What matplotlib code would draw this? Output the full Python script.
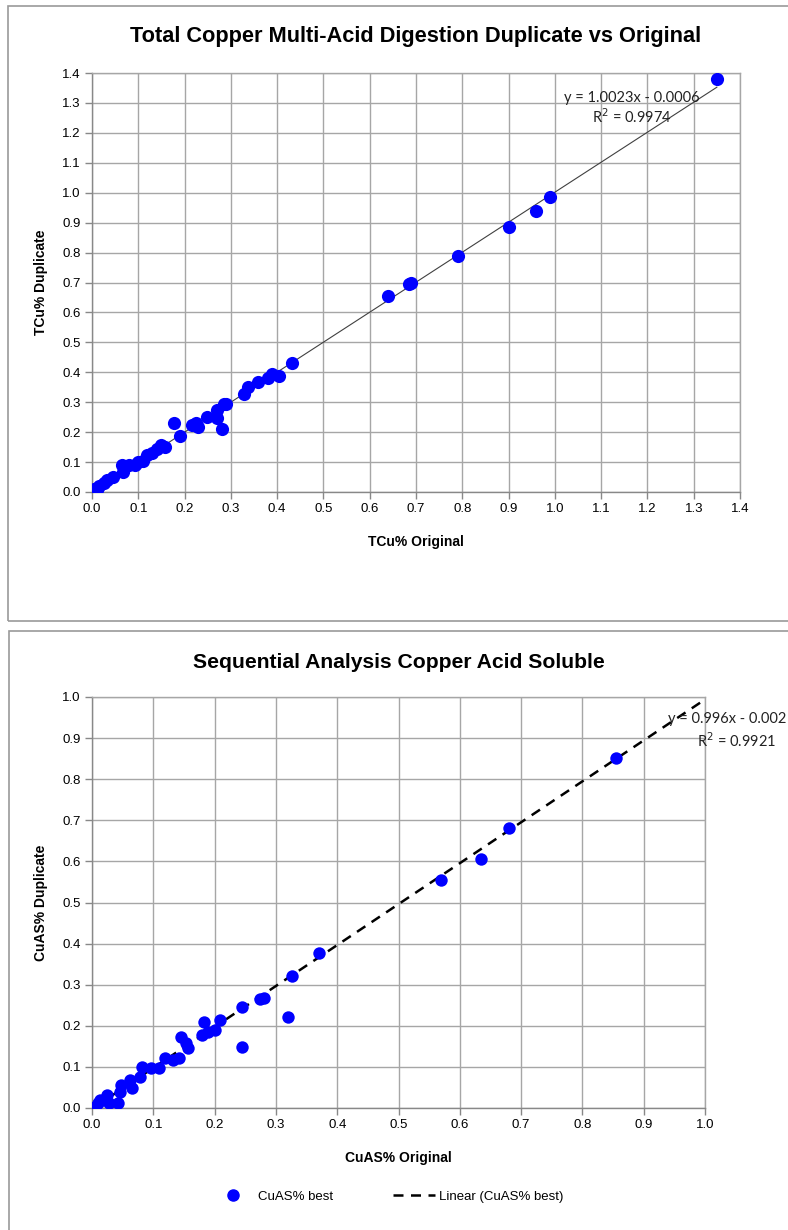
import numpy as np
import matplotlib
matplotlib.use("Agg")
import matplotlib.pyplot as plt
from matplotlib.patches import Rectangle
from matplotlib.lines import Line2D

# total copper: original vs duplicate assay (%)
tcu_orig = [1.35, 0.99, 0.96, 0.90, 0.79, 0.69, 0.685, 0.64, 0.433, 0.405, 0.388,
            0.381, 0.359, 0.338, 0.329, 0.29, 0.285, 0.28, 0.271, 0.271, 0.248,
            0.23, 0.225, 0.215, 0.19, 0.178, 0.158, 0.15, 0.14, 0.13, 0.118,
            0.11, 0.10, 0.093, 0.08, 0.064, 0.068, 0.045, 0.032, 0.025, 0.015,
            0.01, 0.005]
tcu_dup = [1.38, 0.985, 0.94, 0.885, 0.79, 0.70, 0.695, 0.655, 0.43, 0.388, 0.394,
           0.38, 0.368, 0.35, 0.326, 0.294, 0.295, 0.21, 0.246, 0.274, 0.252,
           0.218, 0.23, 0.224, 0.188, 0.23, 0.149, 0.157, 0.145, 0.13, 0.124,
           0.105, 0.10, 0.09, 0.09, 0.09, 0.068, 0.05, 0.04, 0.03, 0.02,
           0.007, 0.01]
tcu_slope, tcu_icept, tcu_r2 = 1.0023, -0.0006, 0.9974

# acid soluble copper: original vs duplicate assay (%)
cuas_orig = [0.855, 0.68, 0.635, 0.57, 0.37, 0.327, 0.319, 0.244, 0.244, 0.274,
             0.281, 0.209, 0.20, 0.182, 0.179, 0.19, 0.146, 0.154, 0.157, 0.142,
             0.132, 0.119, 0.11, 0.097, 0.081, 0.079, 0.062, 0.065, 0.048, 0.043,
             0.024, 0.027, 0.01, 0.005, 0.013, 0.046]
cuas_dup = [0.852, 0.682, 0.605, 0.555, 0.378, 0.322, 0.222, 0.245, 0.149, 0.264,
            0.267, 0.214, 0.19, 0.21, 0.178, 0.186, 0.172, 0.157, 0.145, 0.121,
            0.118, 0.121, 0.097, 0.097, 0.10, 0.076, 0.068, 0.048, 0.056, 0.011,
            0.032, 0.011, 0.011, 0.003, 0.02, 0.04]
cuas_slope, cuas_icept, cuas_r2 = 0.996, -0.002, 0.9921

title_font = ["Liberation Sans", "DejaVu Sans"]
body_font = ["Liberation Sans", "DejaVu Sans"]
eq_font = ["Lato", "DejaVu Sans"]
grid_col = "#a6a6a6"

fig = plt.figure(figsize=(7.88, 12.30), dpi=100)
W, H = 788, 1230

# chart area frames
fig.patches.append(Rectangle((8 / W, 1 - 621 / H), 800 / W, 615 / H,
                             transform=fig.transFigure, fill=False,
                             edgecolor="#9a9a9a", linewidth=1.2))
fig.patches.append(Rectangle((9 / W, -0.02), 800 / W, (1230 - 631) / H + 0.02,
                             transform=fig.transFigure, fill=False,
                             edgecolor="#9a9a9a", linewidth=1.2))


def style_axes(ax, top):
    n = int(round(top * 10))
    ticks = np.round(np.linspace(0, top, n + 1), 1)
    ax.set_xlim(0, top)
    ax.set_ylim(0, top)
    ax.set_xticks(ticks)
    ax.set_yticks(ticks)
    ax.set_xticklabels([f"{t:.1f}" for t in ticks], family=body_font, fontsize=9.5)
    ax.set_yticklabels([f"{t:.1f}" for t in ticks], family=body_font, fontsize=9.5)
    ax.grid(True, color=grid_col, linewidth=1.0)
    ax.set_axisbelow(True)
    for side in ax.spines.values():
        side.set_color(grid_col)
        side.set_linewidth(1.0)
    ax.spines["left"].set_color("#888888")
    ax.spines["bottom"].set_color("#888888")
    ax.tick_params(direction="out", length=5, color="#888888", width=1.0, pad=3)


# top chart: total copper
ax1 = fig.add_axes([92 / W, 1 - 492 / H, 648 / W, 419 / H])
style_axes(ax1, 1.4)
xs = np.array([min(tcu_orig), max(tcu_orig)])
ax1.plot(xs, tcu_slope * xs + tcu_icept, color="#404040", linewidth=0.8, zorder=2)
ax1.scatter(tcu_orig, tcu_dup, s=90, color="#0000ff", zorder=3, linewidths=0)
ax1.text(1.166, 1.316, f"y = {tcu_slope}x - {abs(tcu_icept):.4f}", family=eq_font,
         fontsize=10.5, ha="center", va="center", color="#222222")
ax1.text(1.166, 1.253, f"R$^2$ = {tcu_r2}", family=eq_font,
         fontsize=10.5, ha="center", va="center", color="#222222")
ax1.set_title("Total Copper Multi-Acid Digestion Duplicate vs Original",
              family=title_font, fontsize=15.7, fontweight="bold", pad=22)
ax1.set_xlabel("TCu% Original", family=body_font, fontsize=10, fontweight="bold",
               labelpad=14)
ax1.set_ylabel("TCu% Duplicate", family=body_font, fontsize=10, fontweight="bold",
               labelpad=10)

# bottom chart: acid soluble copper
ax2 = fig.add_axes([92 / W, 1 - 1108 / H, 613 / W, 411 / H])
style_axes(ax2, 1.0)
xs2 = np.array([min(cuas_orig), 1.0])
ax2.plot(xs2, cuas_slope * xs2 + cuas_icept, color="black", linewidth=1.8,
         linestyle=(0, (4, 3)), zorder=2)
ax2.scatter(cuas_orig, cuas_dup, s=80, color="#0000ff", zorder=3, linewidths=0)
fig.text(786 / W, 1 - 719 / H, f"y = {cuas_slope}x - {abs(cuas_icept):.3f}",
         family=eq_font, fontsize=10.5, ha="right", va="center", color="#222222")
fig.text(737 / W, 1 - 741 / H, f"R$^2$ = {cuas_r2}",
         family=eq_font, fontsize=10.5, ha="center", va="center", color="#222222")
ax2.set_title("Sequential Analysis Copper Acid Soluble",
              family=title_font, fontsize=15.2, fontweight="bold", pad=21)
ax2.set_xlabel("CuAS% Original", family=body_font, fontsize=10, fontweight="bold",
               labelpad=14)
ax2.set_ylabel("CuAS% Duplicate", family=body_font, fontsize=10, fontweight="bold",
               labelpad=10)

handles = [Line2D([], [], marker="o", linestyle="none", color="#0000ff",
                  markersize=8, label="CuAS% best"),
           Line2D([], [], color="black", linewidth=1.8, linestyle=(0, (4, 3)),
                  label="Linear (CuAS% best)")]
fig.legend(handles=handles, loc="center", bbox_to_anchor=(0.492, 1 - 1197 / H),
           ncol=2, frameon=False, prop={"family": body_font, "size": 9.5},
           columnspacing=4.5, handlelength=3.2, handletextpad=0.3)

fig.savefig("out.png", dpi=100)
